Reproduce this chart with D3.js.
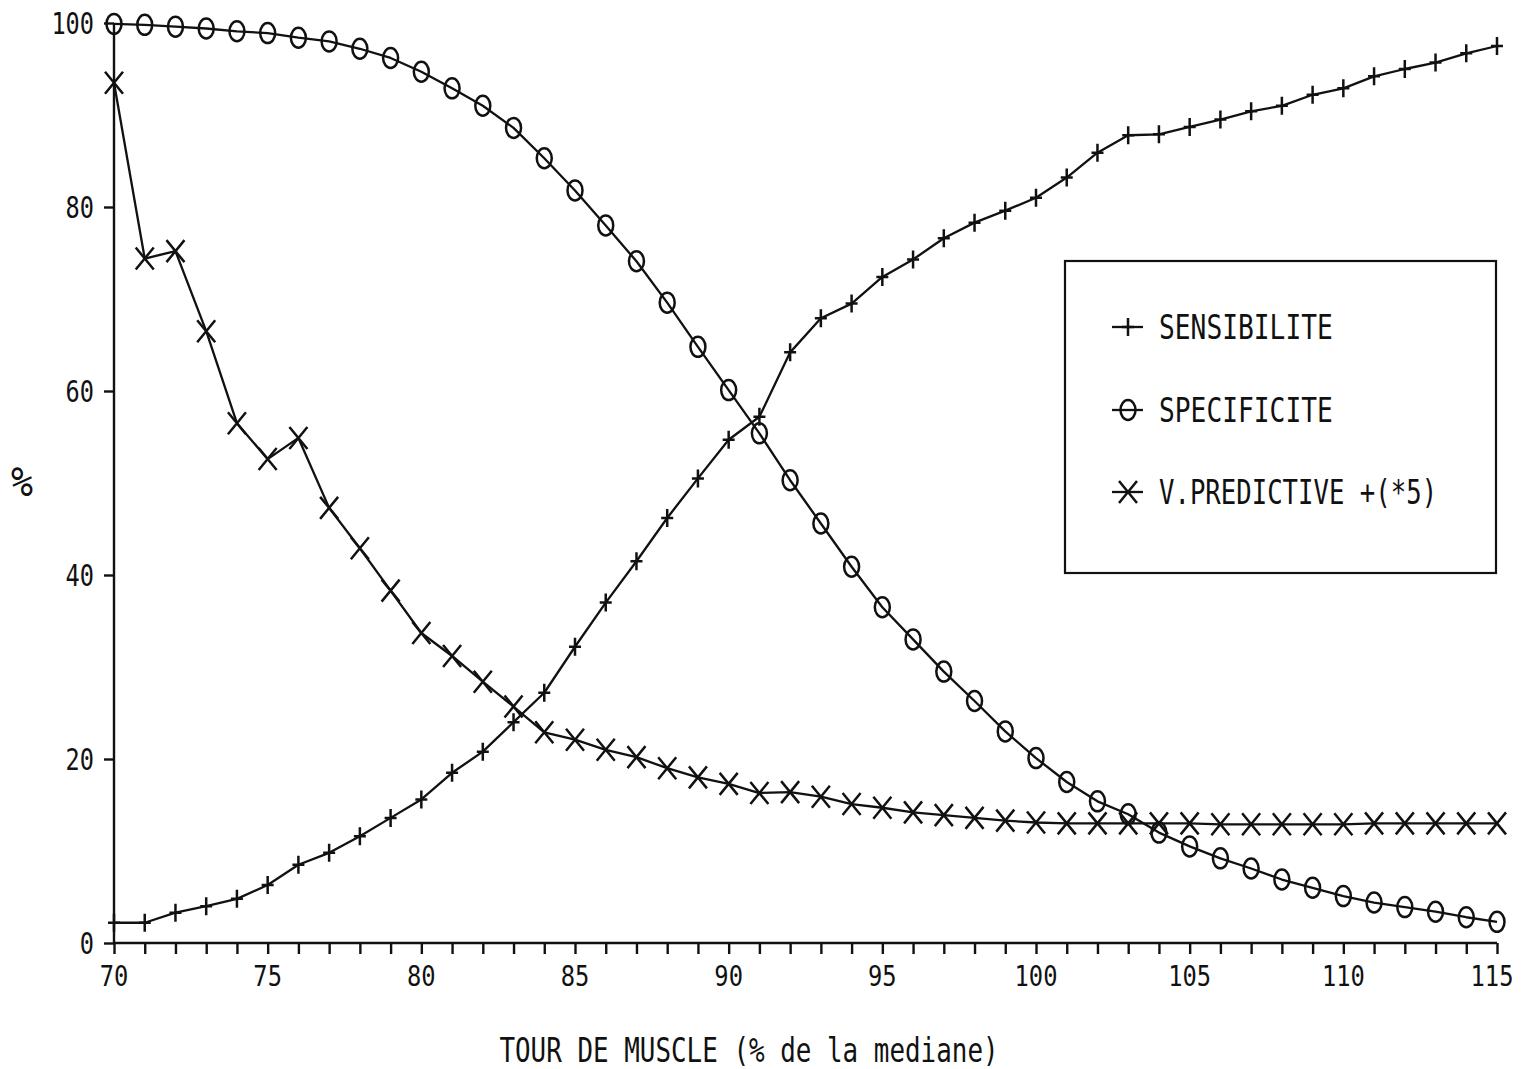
<!DOCTYPE html>
<html>
<head>
<meta charset="utf-8">
<script src="https://cdn.jsdelivr.net/npm/d3@7"></script>
<style>
  html, body { margin: 0; padding: 0; background: #fff; }
  svg { display: block; }
  text { font-family: "DejaVu Sans Mono", "Liberation Mono", monospace; fill: #111; }
</style>
</head>
<body>
<svg id="chart" width="1527" height="1069"></svg>
<script>
// Tour de muscle (% de la médiane) — seuils testés
const tourMuscle = [70, 71, 72, 73, 74, 75, 76, 77, 78, 79, 80, 81, 82, 83, 84, 85, 86, 87, 88, 89,
  90, 91, 92, 93, 94, 95, 96, 97, 98, 99, 100, 101, 102, 103, 104, 105, 106, 107, 108, 109,
  110, 111, 112, 113, 114, 115];

const sensibilite = [2.2, 2.2, 3.3, 4.0, 4.8, 6.3, 8.5, 9.8, 11.6, 13.6, 15.6, 18.5, 20.8, 24.0, 27.2,
  32.2, 37.0, 41.5, 46.2, 50.5, 54.7, 57.2, 64.2, 67.9, 69.5, 72.4, 74.3, 76.6, 78.3, 79.6,
  81.0, 83.2, 85.9, 87.8, 87.9, 88.7, 89.5, 90.4, 91.0, 92.2, 92.9, 94.2, 95.0, 95.7, 96.7, 97.5];

const specificite = [99.9, 99.8, 99.6, 99.4, 99.1, 98.9, 98.4, 98.0, 97.2, 96.2, 94.7, 92.9, 91.0, 88.6,
  85.3, 81.8, 78.0, 74.1, 69.6, 64.8, 60.1, 55.4, 50.3, 45.6, 40.9, 36.5, 33.0, 29.5, 26.3,
  23.0, 20.1, 17.5, 15.4, 14.0, 12.0, 10.5, 9.2, 8.1, 6.9, 6.0, 5.1, 4.4, 3.9, 3.4, 2.8, 2.3];

// valeur prédictive positive multipliée par 5
const vPredictive = [93.5, 74.4, 75.2, 66.5, 56.5, 52.6, 54.9, 47.3, 42.9, 38.3, 33.7, 31.2, 28.4, 25.7,
  22.9, 22.1, 21.0, 20.2, 19.0, 18.0, 17.3, 16.3, 16.4, 15.9, 15.1, 14.7, 14.2, 13.9, 13.6,
  13.3, 13.1, 13.0, 13.0, 13.0, 13.0, 13.0, 12.9, 12.9, 12.9, 12.9, 12.9, 13.0, 13.0, 13.0, 13.0, 13.0];

const xTickLabels = [70, 75, 80, 85, 90, 95, 100, 105, 110, 115];
const yTickLabels = [0, 20, 40, 60, 80, 100];
const seriesNames = ["SENSIBILITE", "SPECIFICITE", "V.PREDICTIVE +(*5)"];
const xTitle = "TOUR DE MUSCLE (% de la mediane)";
const yTitle = "%";

const ink = "#111";
const svg = d3.select("#chart");

const x = d3.scaleLinear().domain([70, 115]).range([114, 1497]);
const y = d3.scaleLinear().domain([0, 100]).range([943, 23]);

// condensed plotter-style text: fixed advance per character
function label(sel, str, perChar) {
  sel.text(str)
    .attr("textLength", str.length * perChar)
    .attr("lengthAdjust", "spacingAndGlyphs");
  return sel;
}

// ---- axes ----
const xAxis = d3.axisBottom(x)
  .tickValues(d3.range(70, 116, 1))
  .tickSize(11)
  .tickFormat("");
const gx = svg.append("g").attr("transform", `translate(0,${y(0)})`).call(xAxis);
gx.select(".domain").attr("d", `M${x(70)},0H${x(115)}`);
gx.selectAll("path, line").attr("stroke", ink).attr("stroke-width", 2.4);

const yAxis = d3.axisLeft(y).tickValues(yTickLabels).tickSize(10).tickFormat("");
const gy = svg.append("g").attr("transform", `translate(${x(70)},0)`).call(yAxis);
gy.select(".domain").attr("d", `M0,${y(0)}V${y(100)}`);
gy.selectAll("path, line").attr("stroke", ink).attr("stroke-width", 2.4);

svg.append("g").selectAll("text").data(xTickLabels).join("text")
  .attr("x", d => x(d) - (d === 115 ? 5 : 0)).attr("y", 986)
  .attr("text-anchor", "middle")
  .attr("font-size", 29)
  .each(function (d) { label(d3.select(this), String(d), 14.3); });

svg.append("g").selectAll("text").data(yTickLabels).join("text")
  .attr("x", 94).attr("y", d => y(d) + 11)
  .attr("text-anchor", "end")
  .attr("font-size", 30)
  .each(function (d) { label(d3.select(this), String(d), 14.2); });

label(svg.append("text").attr("x", 749).attr("y", 1062).attr("text-anchor", "middle")
  .attr("font-size", 34), xTitle, 15.6);

label(svg.append("text").attr("x", 22).attr("y", 496).attr("text-anchor", "middle")
  .attr("font-size", 40), yTitle, 22);

// ---- markers ----
const markers = [
  g => g.append("path").attr("d", "M-6,0H6M0,-9V9"),
  g => g.append("ellipse").attr("rx", 7.5).attr("ry", 10).attr("fill", "none"),
  g => g.append("path").attr("d", "M-9,-11L9,11M-9,11L9,-11")
];

const series = [sensibilite, specificite, vPredictive];
const line = d3.line().x(d => x(d[0])).y(d => y(d[1]));

series.forEach((vals, i) => {
  const pts = tourMuscle.map((t, k) => [t, vals[k]]);
  const g = svg.append("g");
  g.append("path").datum(pts).attr("d", line)
    .attr("fill", "none").attr("stroke", ink).attr("stroke-width", 2.3)
    .attr("stroke-linejoin", "round");
  g.selectAll("g.m").data(pts).join("g").attr("class", "m")
    .attr("transform", d => `translate(${x(d[0])},${y(d[1])})`)
    .each(function () {
      markers[i](d3.select(this));
    })
    .selectAll("path, ellipse")
    .attr("stroke", ink).attr("stroke-width", 2.5).attr("fill", "none");
});

// ---- legend ----
const legend = svg.append("g");
legend.append("rect").attr("x", 1065).attr("y", 261).attr("width", 431).attr("height", 312)
  .attr("fill", "#fff").attr("stroke", ink).attr("stroke-width", 2.2);
const rowY = [327, 410, 492];
seriesNames.forEach((name, i) => {
  const row = legend.append("g").attr("transform", `translate(0,${rowY[i]})`);
  row.append("line").attr("x1", 1112).attr("x2", 1143).attr("y1", 0).attr("y2", 0)
    .attr("stroke", ink).attr("stroke-width", 2.3);
  const m = row.append("g").attr("transform", "translate(1128,0)");
  markers[i](m);
  m.selectAll("path, ellipse").attr("stroke", ink).attr("stroke-width", 2.5).attr("fill", "none");
  label(row.append("text").attr("x", 1159).attr("y", 12).attr("font-size", 33), name,
    i === 2 ? 15.45 : 15.8);
});
</script>
</body>
</html>
